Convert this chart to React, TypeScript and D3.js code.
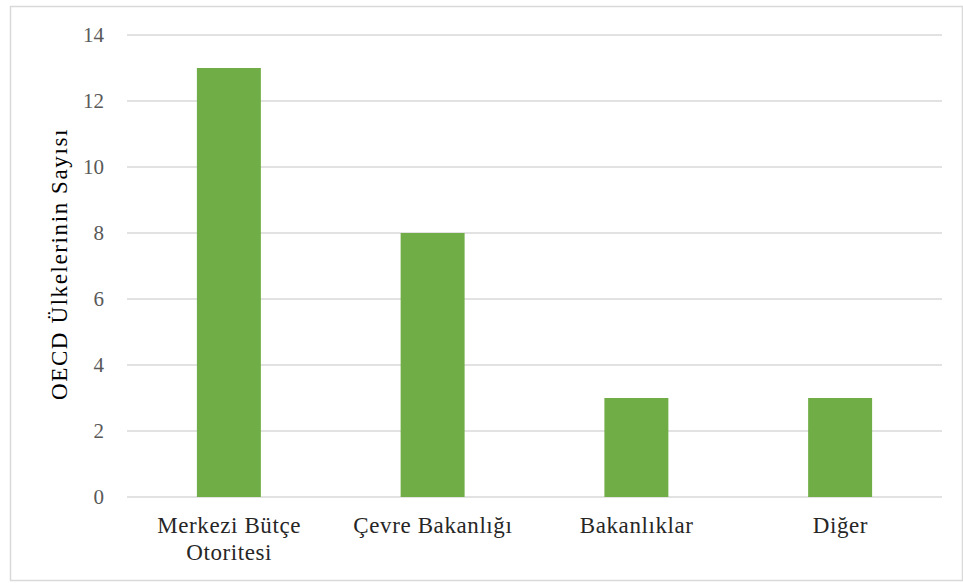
import React from "react";
import * as d3 from "d3";

const categories: string[][] = [
  ["Merkezi Bütçe", "Otoritesi"],
  ["Çevre Bakanlığı"],
  ["Bakanlıklar"],
  ["Diğer"],
];
const values: number[] = [13, 8, 3, 3];
const yTicks: number[] = [0, 2, 4, 6, 8, 10, 12, 14];
const yTitle = "OECD Ülkelerinin Sayısı";

const W = 963;
const H = 583;
const plot = { left: 127, right: 942, top: 35, bottom: 497 };
const FONT = "'Liberation Serif', 'Times New Roman', serif";

export default function App() {
  const x = d3
    .scaleBand<number>()
    .domain(values.map((_, i) => i))
    .range([plot.left, plot.right])
    .padding(0);
  const y = d3.scaleLinear().domain([0, 14]).range([plot.bottom, plot.top]);
  const barW = x.bandwidth() * 0.314;
  const cx = (i: number) => (x(i) as number) + x.bandwidth() / 2;

  return (
    <svg
      width={W}
      height={H}
      style={{ position: "absolute", left: 0, top: 0, background: "#fff" }}
    >
      <rect x={10.5} y={6.5} width={952} height={574} fill="#fff" stroke="#d9d9d9" strokeWidth={1.5} />
      {yTicks.map((t) => (
        <g key={t}>
          <line
            x1={plot.left}
            x2={plot.right}
            y1={y(t)}
            y2={y(t)}
            stroke="#d9d9d9"
            strokeWidth={1.5}
          />
          <text
            x={104}
            y={y(t)}
            dy="0.35em"
            textAnchor="end"
            fontFamily={FONT}
            fontSize={21}
            fill="#595959"
          >
            {t}
          </text>
        </g>
      ))}
      {values.map((v, i) => (
        <rect
          key={i}
          x={cx(i) - barW / 2}
          y={y(v)}
          width={barW}
          height={y(0) - y(v)}
          fill="#70ad47"
        />
      ))}
      {categories.map((lines, i) => (
        <text
          key={i}
          y={533}
          textAnchor="middle"
          fontFamily={FONT}
          fontSize={23}
          letterSpacing={0.6}
          fill="#262626"
        >
          {lines.map((ln, j) => (
            <tspan key={j} x={cx(i) + 0.3} dy={j === 0 ? 0 : 27}>
              {ln}
            </tspan>
          ))}
        </text>
      ))}
      <text
        transform={`translate(67, 264) rotate(-90)`}
        textAnchor="middle"
        fontFamily={FONT}
        fontSize={23}
        letterSpacing={1.6}
        fill="#000"
      >
        {yTitle}
      </text>
    </svg>
  );
}
